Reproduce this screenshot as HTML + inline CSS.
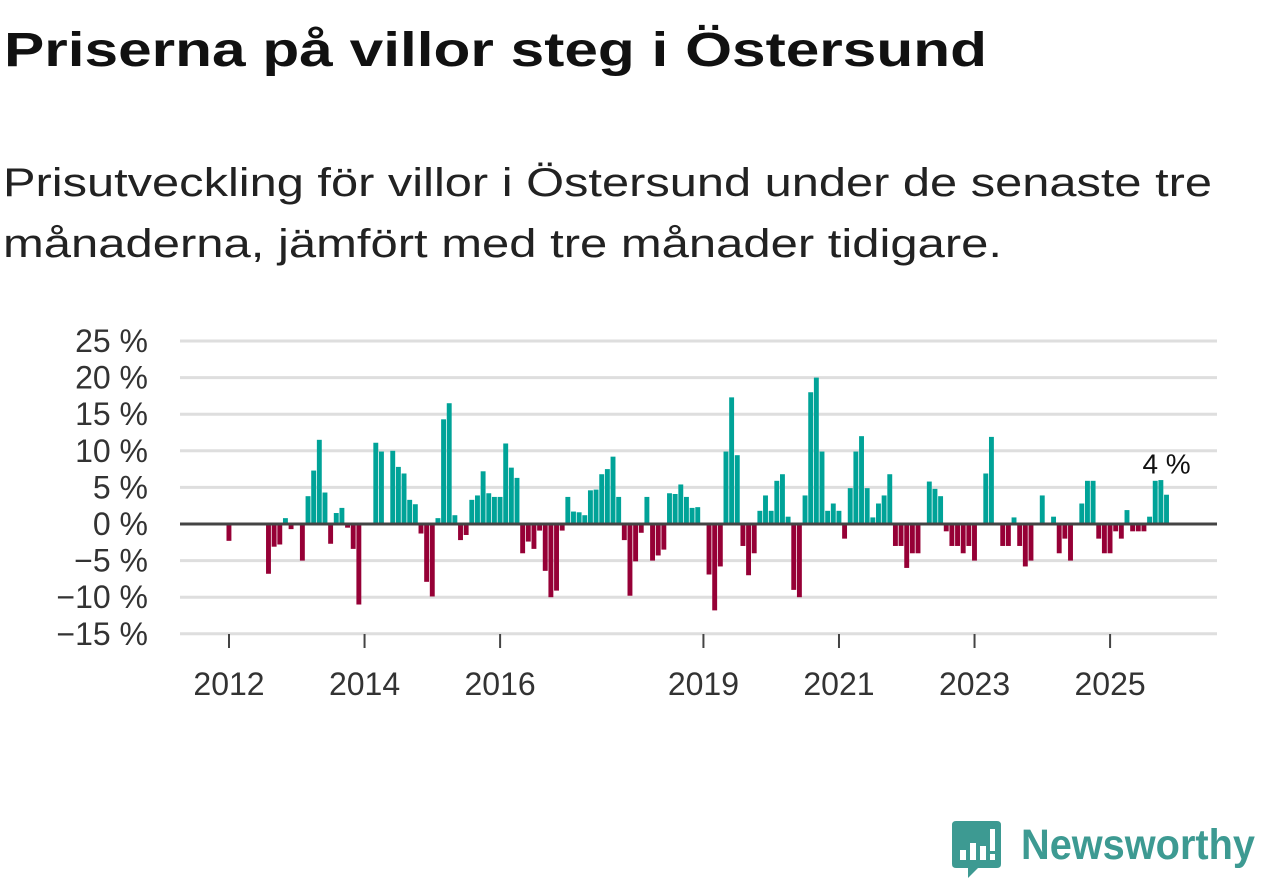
<!DOCTYPE html>
<html><head><meta charset="utf-8">
<style>
html,body{margin:0;padding:0;background:#fff;}
svg{display:block;font-family:"Liberation Sans","DejaVu Sans",sans-serif;}
</style></head>
<body>
<svg id="chart" width="1262" height="879" viewBox="0 0 1262 879" xmlns="http://www.w3.org/2000/svg">
  <text x="4" y="66" font-size="48" font-weight="bold" fill="#111" textLength="983" lengthAdjust="spacingAndGlyphs">Priserna på villor steg i Östersund</text>
  <text x="3" y="196" font-size="40" fill="#222" textLength="1209" lengthAdjust="spacingAndGlyphs">Prisutveckling för villor i Östersund under de senaste tre</text>
  <text x="3" y="257" font-size="40" fill="#222" textLength="999" lengthAdjust="spacingAndGlyphs">månaderna, jämfört med tre månader tidigare.</text>
  <g id="grid"></g>
  <g id="yaxis"></g>
  <g id="xaxis"></g>
  <g id="bars"></g>
  <line id="zero" x1="180" x2="1217" stroke="#444" stroke-width="3"/>
  <text id="anno" font-size="28" fill="#111" text-anchor="middle">4 %</text>
  <g>
    <path d="M956 821 H997 Q1001 821 1001 825 V864 Q1001 868 997 868 H978 L968 878 V868 H956 Q952 868 952 864 V825 Q952 821 956 821 Z" fill="#3d9a92"/>
    <rect x="960" y="850" width="6" height="10" fill="#fff"/>
    <rect x="970" y="843" width="6" height="17" fill="#fff"/>
    <rect x="980" y="846" width="6" height="14" fill="#fff"/>
    <rect x="990" y="829" width="5" height="22" fill="#fff"/>
    <rect x="990" y="854" width="5" height="6" fill="#fff"/>
    <text x="1021" y="859" font-size="43" font-weight="bold" fill="#3d9a92" textLength="234" lengthAdjust="spacingAndGlyphs">Newsworthy</text>
  </g>
</svg>
<script>
const values = [-2.3,0,0,0,0,0,0,-6.8,-3.1,-2.8,0.8,-0.7,0,-5.0,3.8,7.3,11.5,4.3,-2.7,1.5,2.2,-0.5,-3.4,-11,0,0,11.1,9.9,0,10,7.8,6.9,3.3,2.7,-1.3,-7.9,-9.9,0.8,14.3,16.5,1.2,-2.2,-1.5,3.3,3.9,7.2,4.2,3.7,3.7,11,7.7,6.3,-4.0,-2.4,-3.4,-0.9,-6.4,-10,-9.1,-0.9,3.7,1.7,1.6,1.2,4.6,4.7,6.8,7.5,9.2,3.7,-2.2,-9.8,-5.1,-1.2,3.7,-5.0,-4.3,-3.5,4.2,4.1,5.4,3.7,2.2,2.3,0,-6.9,-11.8,-5.8,9.9,17.3,9.4,-3.0,-7.0,-4.0,1.8,3.9,1.8,5.9,6.8,1.0,-9.0,-10,3.9,18,20,9.9,1.8,2.8,1.8,-2.0,4.9,9.9,12,4.9,0.9,2.8,3.9,6.8,-3,-3,-6,-4,-4,0,5.8,4.8,3.8,-1,-3,-3,-4,-3,-5,0,6.9,11.9,0,-3,-3,0.9,-3,-5.8,-5,0,3.9,0,1,-4,-2,-5,0,2.8,5.9,5.9,-2,-4,-4,-1,-2,1.9,-1,-1,-1,1,5.9,6,4];
const startYear = 2012;
const yTicks = [25,20,15,10,5,0,-5,-10,-15];
const xTickYears = [2012,2014,2016,2019,2021,2023,2025];
const lastLabel = "4 %";

const NS="http://www.w3.org/2000/svg";
const y = v => 524 - v*7.32;
const x = i => 229 + i*5.648;
function mk(tag, attrs, parent){const e=document.createElementNS(NS,tag);for(const k in attrs)e.setAttribute(k,attrs[k]);parent.appendChild(e);return e;}
const grid=document.getElementById('grid'), ya=document.getElementById('yaxis'), xa=document.getElementById('xaxis'), bars=document.getElementById('bars');
yTicks.forEach(t=>{
  const l=mk('line',{x1:180,x2:1217,y1:y(t),y2:y(t),stroke:'#dedede','stroke-width':3},grid);
  
  
  const tx=mk('text',{x:148,y:y(t)+11,'font-size':32,fill:'#333','text-anchor':'end'},ya);
  tx.textContent=(t<0?'\u2212'+(-t):t)+' %';
  
  
});
xTickYears.forEach(yr=>{
  const xi=x((yr-startYear)*12);
  const tk=mk('line',{x1:xi,x2:xi,y1:634,y2:648,stroke:'#444','stroke-width':2},xa);
  
  
  const tx=mk('text',{x:xi,y:695,'font-size':32,fill:'#333','text-anchor':'middle'},xa);
  tx.textContent=yr;
  
  
});
values.forEach((v,i)=>{
  if(v===0)return;
  const r=mk('rect',{x:x(i)-2.5,width:4.9,y:Math.min(y(v),y(0)),height:Math.abs(y(v)-y(0)),fill:v>0?'#00a398':'#960036'},bars);
  
  
});
const zero=document.getElementById('zero'); zero.setAttribute('y1',y(0)); zero.setAttribute('y2',y(0));
const last=values.length-1, anno=document.getElementById('anno');
anno.setAttribute('x',x(last)); anno.setAttribute('y',y(values[last])-21); anno.textContent=lastLabel;
</script>
</body></html>
